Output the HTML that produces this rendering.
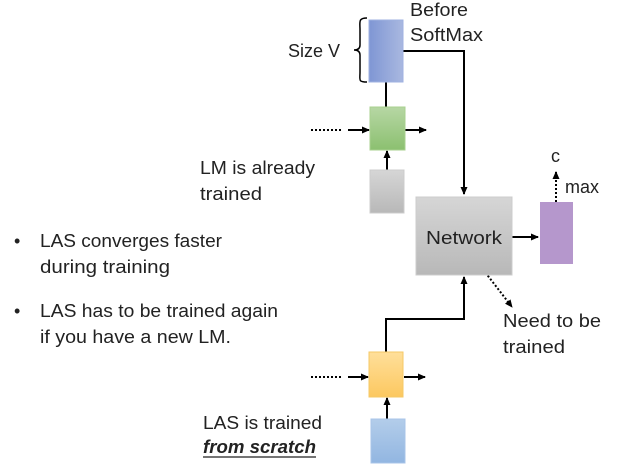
<!DOCTYPE html>
<html><head><style>body{margin:0;background:#fff}svg{display:block}</style></head><body>
<svg width="625" height="467" xmlns="http://www.w3.org/2000/svg" font-family="Liberation Sans, sans-serif" font-size="18" fill="#222">
<defs>
<linearGradient id="bl" x1="0" x2="1"><stop offset="0" stop-color="#7f96d4"/><stop offset="1" stop-color="#a9b8e0"/></linearGradient>
<linearGradient id="gr" x1="0" y1="0" x2="0" y2="1"><stop offset="0" stop-color="#b7d7a4"/><stop offset="1" stop-color="#8cc070"/></linearGradient>
<linearGradient id="gy" x1="0" y1="0" x2="0" y2="1"><stop offset="0" stop-color="#d6d6d6"/><stop offset="1" stop-color="#b8b8b8"/></linearGradient>
<linearGradient id="yl" x1="0" y1="0" x2="0" y2="1"><stop offset="0" stop-color="#ffdf9a"/><stop offset="1" stop-color="#fcc860"/></linearGradient>
<linearGradient id="lb" x1="0" y1="0" x2="0" y2="1"><stop offset="0" stop-color="#b3cdea"/><stop offset="1" stop-color="#92b6e1"/></linearGradient>
<marker id="a" markerWidth="8" markerHeight="8" refX="7" refY="4" orient="auto" markerUnits="userSpaceOnUse"><path d="M0,0.5 L8,4 L0,7.5z" fill="#000"/></marker>
</defs>
<g stroke="#000" stroke-width="2" fill="none">
<line x1="386" y1="82" x2="386" y2="107"/>
<polyline points="403,51 464,51 464,194" marker-end="url(#a)"/>
<line x1="387" y1="170" x2="387" y2="151" marker-end="url(#a)"/>
<line x1="311" y1="130" x2="343" y2="130" stroke-dasharray="2,2"/>
<line x1="348" y1="130" x2="369" y2="130" marker-end="url(#a)"/>
<line x1="405" y1="130" x2="426" y2="130" marker-end="url(#a)"/>
<line x1="512" y1="237" x2="538" y2="237" marker-end="url(#a)"/>
<line x1="556" y1="202" x2="556" y2="172" stroke-dasharray="2,2" marker-end="url(#a)"/>
<polyline points="386,352 386,319 464,319 464,277" marker-end="url(#a)"/>
<line x1="311" y1="377" x2="343" y2="377" stroke-dasharray="2,2"/>
<line x1="348" y1="377" x2="368" y2="377" marker-end="url(#a)"/>
<line x1="404" y1="377" x2="425" y2="377" marker-end="url(#a)"/>
<line x1="387" y1="419" x2="387" y2="398" marker-end="url(#a)"/>
<line x1="478" y1="263" x2="512" y2="307" stroke-dasharray="2,2" marker-end="url(#a)"/>
<path d="M367,18 C358,18 360,22 360,30 L360,45 C360,49 357,50 354,50 C357,50 360,51 360,55 L360,72 C360,80 358,82 367,82" stroke-width="1.5"/>
</g>
<rect x="369" y="20" width="34" height="62" fill="url(#bl)" stroke="#9fb2e0"/>
<rect x="370" y="107" width="35" height="43" fill="url(#gr)" stroke="#a8d08f"/>
<rect x="370" y="170" width="34" height="43" fill="url(#gy)" stroke="#ccc"/>
<rect x="416" y="197" width="96" height="78" fill="url(#gy)" stroke="#ccc"/>
<rect x="540" y="202" width="33" height="62" fill="#b597cc"/>
<rect x="369" y="352" width="34" height="45" fill="url(#yl)" stroke="#f5c866"/>
<rect x="371" y="419" width="34" height="44" fill="url(#lb)" stroke="#a8c4e8"/>
<g lengthAdjust="spacingAndGlyphs">
<text x="410" y="16" textLength="58" lengthAdjust="spacingAndGlyphs">Before</text>
<text x="410" y="41" textLength="73" lengthAdjust="spacingAndGlyphs">SoftMax</text>
<text x="288" y="57" textLength="52" lengthAdjust="spacingAndGlyphs">Size V</text>
<text x="200" y="174" textLength="115" lengthAdjust="spacingAndGlyphs">LM is already</text>
<text x="200" y="200" textLength="62" lengthAdjust="spacingAndGlyphs">trained</text>
<text x="426" y="244" textLength="76" lengthAdjust="spacingAndGlyphs">Network</text>
<text x="551" y="162">c</text>
<text x="565" y="193" textLength="34" lengthAdjust="spacingAndGlyphs">max</text>
<text x="503" y="327" textLength="98" lengthAdjust="spacingAndGlyphs">Need to be</text>
<text x="503" y="353" textLength="62" lengthAdjust="spacingAndGlyphs">trained</text>
<text x="203" y="429" textLength="119" lengthAdjust="spacingAndGlyphs">LAS is trained</text>
<text x="203" y="453" font-weight="bold" font-style="italic" textLength="113" lengthAdjust="spacingAndGlyphs">from scratch</text>
<line x1="203" y1="457" x2="316" y2="457" stroke="#222" stroke-width="1.2"/>
<text x="14" y="247">•</text>
<text x="40" y="247" textLength="182" lengthAdjust="spacingAndGlyphs">LAS converges faster</text>
<text x="40" y="273" textLength="130" lengthAdjust="spacingAndGlyphs">during training</text>
<text x="14" y="317">•</text>
<text x="40" y="317" textLength="238" lengthAdjust="spacingAndGlyphs">LAS has to be trained again</text>
<text x="40" y="343" textLength="191" lengthAdjust="spacingAndGlyphs">if you have a new LM.</text>
</g>
</svg>
</body></html>
